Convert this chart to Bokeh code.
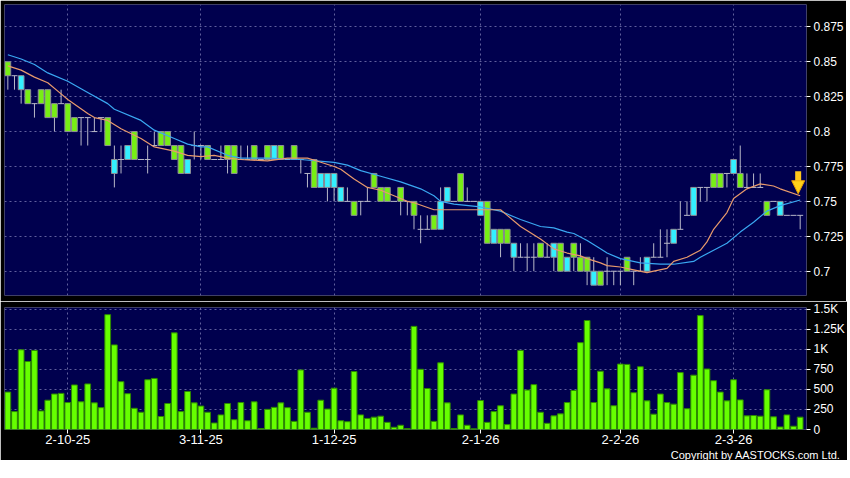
from bokeh.plotting import figure
from bokeh.layouts import column
from bokeh.models import Range1d, FixedTicker, Title, Arrow, NormalHead, ColumnDataSource
from bokeh.embed import file_html
from bokeh.resources import INLINE

# ---------------- data ----------------
opens = [0.85, 0.84, 0.83, 0.83, 0.82, 0.83, 0.83, 0.82, 0.82, 0.82,
         0.81, 0.81, 0.81, 0.80, 0.81, 0.81, 0.77, 0.78, 0.78, 0.80,
         0.78, 0.78, 0.79, 0.80, 0.80, 0.79, 0.79, 0.77, 0.79, 0.79,
         0.79, 0.78, 0.78, 0.79, 0.79, 0.78, 0.78, 0.79, 0.78, 0.79,
         0.78, 0.79, 0.78, 0.79, 0.78, 0.77, 0.78, 0.76, 0.76, 0.76,
         0.75, 0.75, 0.75, 0.75, 0.75, 0.77, 0.76, 0.76, 0.75, 0.76,
         0.75, 0.75, 0.73, 0.73, 0.74, 0.73, 0.75, 0.75, 0.77, 0.75,
         0.75, 0.74, 0.75, 0.72, 0.73, 0.73, 0.71, 0.71, 0.71, 0.71,
         0.72, 0.71, 0.71, 0.72, 0.70, 0.72, 0.71, 0.71, 0.69, 0.70,
         0.70, 0.70, 0.70, 0.71, 0.70, 0.70, 0.70, 0.71, 0.71, 0.72,
         0.72, 0.73, 0.74, 0.74, 0.76, 0.76, 0.77, 0.77, 0.77, 0.77,
         0.77, 0.76, 0.76, 0.76, 0.75, 0.75, 0.74, 0.74, 0.74, 0.74]
highs = [0.85, 0.84, 0.84, 0.83, 0.82, 0.83, 0.83, 0.82, 0.83, 0.82,
         0.81, 0.81, 0.81, 0.81, 0.81, 0.81, 0.79, 0.79, 0.79, 0.80,
         0.78, 0.79, 0.80, 0.80, 0.80, 0.79, 0.79, 0.78, 0.80, 0.79,
         0.79, 0.78, 0.79, 0.79, 0.79, 0.79, 0.79, 0.79, 0.78, 0.79,
         0.79, 0.79, 0.78, 0.79, 0.78, 0.77, 0.78, 0.77, 0.77, 0.77,
         0.76, 0.76, 0.75, 0.75, 0.76, 0.77, 0.76, 0.76, 0.75, 0.76,
         0.75, 0.75, 0.74, 0.74, 0.74, 0.76, 0.76, 0.75, 0.77, 0.76,
         0.75, 0.75, 0.75, 0.73, 0.73, 0.73, 0.72, 0.72, 0.72, 0.72,
         0.72, 0.72, 0.72, 0.72, 0.71, 0.72, 0.72, 0.71, 0.71, 0.70,
         0.71, 0.70, 0.70, 0.71, 0.70, 0.71, 0.71, 0.72, 0.73, 0.73,
         0.73, 0.75, 0.75, 0.76, 0.76, 0.76, 0.77, 0.77, 0.77, 0.78,
         0.79, 0.77, 0.77, 0.77, 0.75, 0.75, 0.75, 0.74, 0.74, 0.74]
lows = [0.83, 0.83, 0.82, 0.82, 0.81, 0.82, 0.81, 0.80, 0.82, 0.80,
        0.80, 0.79, 0.79, 0.80, 0.80, 0.79, 0.76, 0.77, 0.78, 0.78,
        0.78, 0.77, 0.79, 0.79, 0.79, 0.78, 0.77, 0.77, 0.78, 0.78,
        0.78, 0.78, 0.78, 0.77, 0.77, 0.78, 0.78, 0.78, 0.78, 0.78,
        0.78, 0.78, 0.78, 0.78, 0.77, 0.76, 0.76, 0.76, 0.75, 0.75,
        0.75, 0.75, 0.74, 0.74, 0.75, 0.76, 0.75, 0.75, 0.75, 0.74,
        0.74, 0.73, 0.72, 0.73, 0.73, 0.73, 0.75, 0.75, 0.75, 0.75,
        0.75, 0.74, 0.72, 0.72, 0.71, 0.72, 0.70, 0.71, 0.70, 0.70,
        0.71, 0.71, 0.70, 0.70, 0.70, 0.70, 0.70, 0.69, 0.69, 0.69,
        0.69, 0.69, 0.69, 0.70, 0.69, 0.70, 0.70, 0.71, 0.71, 0.71,
        0.72, 0.73, 0.74, 0.74, 0.75, 0.75, 0.76, 0.76, 0.76, 0.77,
        0.76, 0.76, 0.76, 0.76, 0.74, 0.75, 0.74, 0.74, 0.74, 0.73]
closes = [0.84, 0.84, 0.84, 0.82, 0.82, 0.82, 0.81, 0.81, 0.82, 0.80,
          0.80, 0.81, 0.81, 0.80, 0.81, 0.79, 0.78, 0.78, 0.79, 0.78,
          0.78, 0.78, 0.79, 0.79, 0.79, 0.78, 0.77, 0.78, 0.79, 0.79,
          0.78, 0.78, 0.78, 0.78, 0.77, 0.78, 0.78, 0.78, 0.78, 0.78,
          0.79, 0.78, 0.78, 0.78, 0.78, 0.77, 0.76, 0.77, 0.77, 0.77,
          0.76, 0.75, 0.74, 0.75, 0.75, 0.76, 0.75, 0.75, 0.75, 0.75,
          0.75, 0.74, 0.73, 0.73, 0.73, 0.75, 0.76, 0.75, 0.75, 0.75,
          0.75, 0.75, 0.72, 0.73, 0.72, 0.72, 0.72, 0.71, 0.71, 0.71,
          0.71, 0.71, 0.72, 0.70, 0.71, 0.71, 0.70, 0.70, 0.70, 0.69,
          0.70, 0.70, 0.70, 0.70, 0.70, 0.70, 0.71, 0.71, 0.71, 0.72,
          0.73, 0.73, 0.74, 0.76, 0.76, 0.76, 0.76, 0.76, 0.77, 0.78,
          0.76, 0.76, 0.76, 0.76, 0.74, 0.75, 0.75, 0.74, 0.74, 0.74]
volume = [466, 223, 993, 847, 985, 231, 365, 442, 450, 336,
          555, 345, 568, 332, 272, 1431, 1054, 596, 446, 264,
          215, 620, 636, 162, 324, 1204, 223, 474, 332, 292,
          215, 81, 182, 324, 122, 336, 109, 345, 12, 251,
          276, 332, 272, 101, 742, 215, 16, 365, 255, 515,
          109, 97, 722, 182, 138, 154, 166, 89, 28, 53,
          12, 1285, 750, 511, 101, 831, 332, 12, 182, 53,
          8, 361, 89, 223, 296, 61, 442, 985, 491, 559,
          215, 77, 170, 195, 336, 486, 1082, 1358, 336, 726,
          507, 296, 815, 811, 458, 782, 357, 191, 442, 336,
          316, 709, 259, 677, 1419, 754, 608, 466, 357, 620,
          369, 170, 174, 166, 495, 158, 32, 182, 41, 154]

ma_short_idx = [0, 2, 4, 6, 8, 9, 12, 13, 15, 17, 20, 22, 25, 27, 29, 31, 33, 35, 39,
                42, 45, 47, 49, 50, 52, 54, 56, 58, 60, 61, 64, 66, 71, 74, 75, 77,
                80, 82, 84, 86, 87, 89, 90, 92, 94, 96, 97, 99, 100, 102, 104, 105,
                106, 108, 109, 111, 113, 115, 116, 119]
ma_short_val = [0.847, 0.844, 0.839, 0.835, 0.827, 0.823, 0.813, 0.810, 0.808, 0.802,
                0.795, 0.789, 0.786, 0.783, 0.782, 0.783, 0.781, 0.780, 0.779, 0.781,
                0.781, 0.778, 0.775, 0.773, 0.766, 0.760, 0.758, 0.754, 0.750, 0.749,
                0.744, 0.744, 0.744, 0.744, 0.740, 0.732, 0.723, 0.716, 0.713, 0.711,
                0.709, 0.706, 0.704, 0.703, 0.701, 0.699, 0.700, 0.702, 0.707, 0.710,
                0.715, 0.721, 0.730, 0.742, 0.752, 0.759, 0.7625, 0.761, 0.759, 0.754]
ma_long_idx = [0, 2, 4, 6, 9, 12, 15, 16, 20, 22, 25, 27, 29, 30, 33, 35, 39, 44, 49,
               51, 53, 56, 59, 62, 64, 65, 67, 71, 74, 77, 80, 82, 84, 85, 87, 89, 90,
               92, 95, 98, 100, 103, 104, 106, 108, 110, 112, 114, 116, 119]
ma_long_val = [0.855, 0.852, 0.848, 0.842, 0.836, 0.828, 0.820, 0.816, 0.808, 0.801,
               0.795, 0.791, 0.789, 0.789, 0.783, 0.781, 0.781, 0.780, 0.778, 0.776,
               0.772, 0.768, 0.764, 0.759, 0.754, 0.750, 0.748, 0.746, 0.743, 0.737,
               0.732, 0.731, 0.728, 0.727, 0.722, 0.716, 0.713, 0.709, 0.706, 0.705,
               0.705, 0.707, 0.710, 0.715, 0.720, 0.728, 0.735, 0.743, 0.747, 0.751]

price_ticks = [0.7, 0.725, 0.75, 0.775, 0.8, 0.825, 0.85, 0.875]
price_tick_labels = ["0.7", "0.725", "0.75", "0.775", "0.8", "0.825", "0.85", "0.875"]
vol_ticks = [0, 250, 500, 750, 1000, 1250, 1500]
vol_tick_labels = ["0", "250", "500", "750", "1K", "1.25K", "1.5K"]
date_tick_idx = [9, 29, 49, 71, 92, 109]
date_tick_labels = ["2-10-25", "3-11-25", "1-12-25", "2-1-26", "2-2-26", "2-3-26"]

# ---------------- styles ----------------
FONT = "Liberation Sans"
NAVY = "#00004E"
GRID = "#6A6AA6"
GREEN = "#77EE14"
CYAN = "#33F0FF"
BODY_LINE = "#8E8E96"
WICK = "#B8B8C8"
VOL_FILL = "#66FF00"
VOL_LINE = "#2E8A00"
FRAME_W = 802

n = len(closes)
xs = list(range(n))

up = dict(x=[], top=[], bottom=[])
dn = dict(x=[], top=[], bottom=[])
flat = dict(x0=[], x1=[], y=[])
for i in xs:
    o, c = opens[i], closes[i]
    if c > o:
        up["x"].append(i); up["top"].append(c); up["bottom"].append(o)
    elif c < o:
        dn["x"].append(i); dn["top"].append(o); dn["bottom"].append(c)
    else:
        flat["x0"].append(i - 0.45); flat["x1"].append(i + 0.45); flat["y"].append(c)

x_range = Range1d(-0.5, n - 0.05)


def style(p):
    p.background_fill_color = NAVY
    p.border_fill_color = "black"
    p.outline_line_color = None
    p.toolbar.logo = None
    for g in (p.xgrid, p.ygrid):
        g.grid_line_color = GRID
        g.grid_line_dash = "2 3"
        g.grid_line_alpha = 0.9
    p.xgrid.ticker = FixedTicker(ticks=date_tick_idx)
    for ax in p.yaxis:
        ax.axis_line_color = None
        ax.major_tick_line_color = "white"
        ax.major_tick_out = 4
        ax.major_tick_in = 0
        ax.minor_tick_line_color = None
        ax.major_label_text_color = "white"
        ax.major_label_text_font = FONT
        ax.major_label_text_font_size = "12px"
        ax.major_label_standoff = 3


# ---------------- price panel ----------------
p1 = figure(frame_width=FRAME_W, frame_height=291, x_range=x_range,
            y_range=Range1d(0.6826, 0.891), y_axis_location="right",
            output_backend="svg", toolbar_location=None,
            min_border_left=4, min_border_top=4, min_border_bottom=6, min_border_right=0)
style(p1)
p1.xaxis.visible = False
p1.yaxis.ticker = FixedTicker(ticks=price_ticks)
p1.yaxis.major_label_overrides = dict(zip(price_ticks, price_tick_labels))
p1.ygrid.ticker = FixedTicker(ticks=price_ticks)

p1.segment(x0=xs, y0=highs, x1=xs, y1=lows, line_color=WICK, line_width=1)
p1.segment(x0="x0", y0="y", x1="x1", y1="y", source=ColumnDataSource(flat),
           line_color=WICK, line_width=1)
p1.vbar(x="x", top="top", bottom="bottom", width=0.86, source=ColumnDataSource(dn),
        fill_color=GREEN, line_color=BODY_LINE, line_width=1)
p1.vbar(x="x", top="top", bottom="bottom", width=0.86, source=ColumnDataSource(up),
        fill_color=CYAN, line_color=BODY_LINE, line_width=1)

p1.line(ma_long_idx, ma_long_val, line_color="#3AA8F2", line_width=1.2)
p1.line(ma_short_idx, ma_short_val, line_color="#E89A6C", line_width=1.2)

tip = ma_short_val[-1]
p1.add_layout(Arrow(end=NormalHead(size=13, fill_color="#FFD21A", line_color="#E89B00"),
                    x_start=n - 1.3, y_start=tip + 0.0175,
                    x_end=n - 1.3, y_end=tip + 0.0015,
                    line_color="#FFC81A", line_width=6))

# ---------------- volume panel ----------------
p2 = figure(frame_width=FRAME_W, frame_height=122, x_range=x_range,
            y_range=Range1d(0, 1520), y_axis_location="right",
            output_backend="svg", toolbar_location=None,
            min_border_left=4, min_border_top=6, min_border_bottom=0, min_border_right=0)
style(p2)
p2.yaxis.ticker = FixedTicker(ticks=vol_ticks)
p2.yaxis.major_label_overrides = dict(zip(vol_ticks, vol_tick_labels))
p2.ygrid.ticker = FixedTicker(ticks=vol_ticks)
p2.xaxis.ticker = FixedTicker(ticks=date_tick_idx)
p2.xaxis.major_label_overrides = dict(zip(date_tick_idx, date_tick_labels))
p2.xaxis.axis_line_color = None
p2.xaxis.major_tick_line_color = "white"
p2.xaxis.major_tick_out = 4
p2.xaxis.major_tick_in = 0
p2.xaxis.minor_tick_line_color = None
p2.xaxis.major_label_text_color = "white"
p2.xaxis.major_label_text_font = FONT
p2.xaxis.major_label_text_font_size = "13px"
p2.xaxis.major_label_standoff = 1

p2.vbar(x=xs, top=volume, bottom=0, width=0.86, fill_color=VOL_FILL,
        line_color=VOL_LINE, line_width=1)

p2.add_layout(Title(text="Copyright by AASTOCKS.com Ltd.", align="right",
                    text_color="white", text_font=FONT, text_font_size="11px",
                    text_font_style="normal", standoff=0, offset=-34), "below")

layout = column(p1, p2, spacing=0)
open("out.html", "w").write(file_html(layout, INLINE))
